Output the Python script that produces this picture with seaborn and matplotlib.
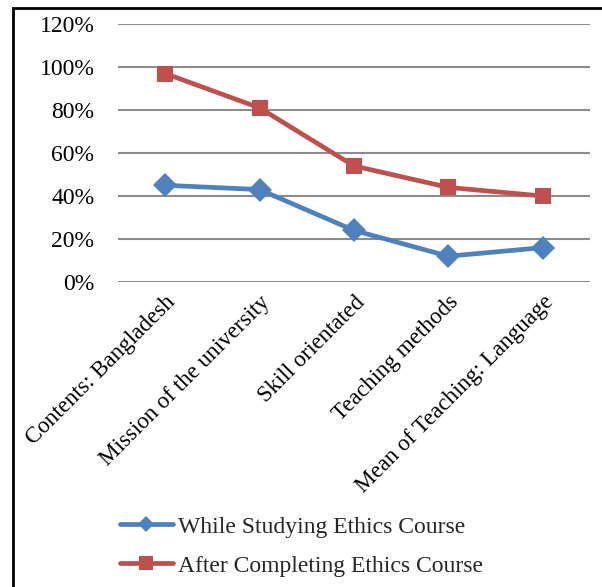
import pandas as pd
import numpy as np
import matplotlib
matplotlib.use("Agg")
import matplotlib.pyplot as plt
from matplotlib.ticker import PercentFormatter
from matplotlib.patches import Rectangle
import seaborn as sns

# data (percent)
categories = ["Contents: Bangladesh", "Mission of the university", "Skill orientated",
              "Teaching methods", "Mean of Teaching: Language"]
while_studying = [45, 43, 24, 12, 16]
after_completing = [97, 81, 54, 44, 40]
series_names = ["While Studying Ethics Course", "After Completing Ethics Course"]

df = pd.DataFrame({
    "category": categories * 2,
    "value": while_studying + after_completing,
    "series": [series_names[0]] * len(categories) + [series_names[1]] * len(categories),
})

sns.set_style("white")
plt.rcParams["font.family"] = ["Liberation Serif", "DejaVu Serif"]

fig = plt.figure(figsize=(6.02, 5.87), dpi=100)
ax = fig.add_axes([0.196, 0.5196, 0.784, 0.4394])

palette = {series_names[0]: "#4F81BD", series_names[1]: "#C0504D"}
markers = {series_names[0]: "D", series_names[1]: "s"}
sns.lineplot(data=df, x="category", y="value", hue="series", style="series",
             palette=palette, markers=markers, dashes=False, linewidth=3.4,
             markersize=12, markeredgewidth=0, ax=ax, sort=False)

ax.set_ylim(0, 120)
ax.set_yticks(np.arange(0, 121, 20))
ax.yaxis.set_major_formatter(PercentFormatter(decimals=0))
ax.set_xlim(-0.5, len(categories) - 0.5)
ax.grid(axis="y", color="#8c8c8c", linewidth=1.5)
ax.grid(axis="x", visible=False)
ax.set_axisbelow(True)
for s in ax.spines.values():
    s.set_visible(False)
ax.set_xlabel("")
ax.set_ylabel("")
ax.tick_params(axis="both", length=0, colors="black")
ax.tick_params(axis="y", pad=17, labelsize=17)
ax.tick_params(axis="x", pad=7, labelsize=16.6)
plt.setp(ax.get_xticklabels(), rotation=45, ha="right", rotation_mode="anchor")

# legend below the plot
handles, labels = ax.get_legend_handles_labels()
ax.legend_.remove()
leg = fig.legend(handles, labels, loc="upper left", bbox_to_anchor=(0.199, 0.121),
                 frameon=False, fontsize=17, handlelength=2.25, handletextpad=0.2,
                 labelspacing=0.75, borderpad=0, borderaxespad=0)
for h, ms in zip(leg.legend_handles, [8, 10]):
    h.set_markersize(ms)

# outer frame (left and top edges visible)
fig.add_artist(Rectangle((13 / 602, -0.1), 1.2, 1 - 7.5 / 587 + 0.1,
                         transform=fig.transFigure, fill=False,
                         edgecolor="black", linewidth=2, clip_on=False))

fig.savefig("out.png", dpi=100, facecolor="white")
